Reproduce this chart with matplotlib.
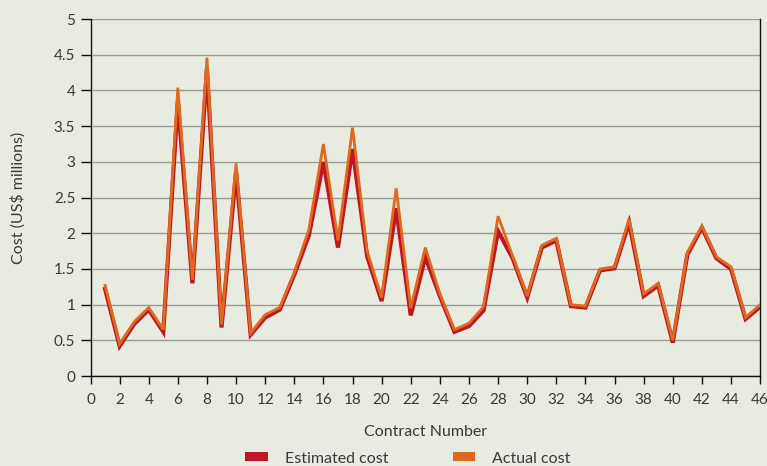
import matplotlib.pyplot as plt
from matplotlib.patches import Patch

# contract numbers 1..46
contracts = list(range(1, 47))

estimated = [1.22, 0.42, 0.73, 0.93, 0.62, 3.85, 1.30, 4.30, 0.68, 2.86,
             0.58, 0.82, 0.93, 1.42, 1.97, 3.00, 1.80, 3.18, 1.68, 1.05,
             2.35, 0.85, 1.67, 1.12, 0.62, 0.70, 0.92, 2.03, 1.65, 1.10,
             1.80, 1.90, 0.98, 0.96, 1.48, 1.51, 2.15, 1.12, 1.27, 0.47,
             1.70, 2.08, 1.65, 1.50, 0.80, 0.97]

actual = [1.27, 0.45, 0.76, 0.96, 0.65, 4.04, 1.35, 4.46, 0.72, 2.98,
          0.60, 0.86, 0.96, 1.45, 2.05, 3.25, 1.90, 3.48, 1.75, 1.10,
          2.63, 0.95, 1.80, 1.15, 0.65, 0.74, 0.97, 2.24, 1.68, 1.12,
          1.83, 1.93, 1.00, 0.98, 1.50, 1.53, 2.20, 1.15, 1.30, 0.50,
          1.73, 2.10, 1.67, 1.53, 0.82, 1.00]

BG = '#E8EBE0'
RED = '#BE1622'
ORANGE = '#E0691E'
TXT = '#3a3a3a'

plt.rcParams['font.family'] = ['Lato', 'DejaVu Sans']

fig = plt.figure(figsize=(7.67, 4.66), dpi=100, facecolor=BG)
ax = fig.add_axes([0.118, 0.193, 0.873, 0.766])
ax.set_facecolor(BG)

ax.plot(contracts, estimated, color=RED, linewidth=3.0, solid_joinstyle='miter', zorder=3)
ax.plot(contracts, actual, color=ORANGE, linewidth=2.0, solid_joinstyle='miter', zorder=4)

ax.set_xlim(0, 46)
ax.set_ylim(0, 5)
ax.set_xticks(range(0, 47, 2))
yt = [0, 0.5, 1, 1.5, 2, 2.5, 3, 3.5, 4, 4.5, 5]
ax.set_yticks(yt)
ax.set_yticklabels(['0', '0.5', '1', '1.5', '2', '2.5', '3', '3.5', '4', '4.5', '5'])

ax.yaxis.grid(True, color='#9a9c96', linewidth=1.0)
ax.set_axisbelow(True)
ax.spines['top'].set_visible(False)
for s in ['left', 'bottom', 'right']:
    ax.spines[s].set_color('#111111')
    ax.spines[s].set_linewidth(1.0)

ax.tick_params(axis='both', direction='out', length=6, width=1, color='#111111',
               labelsize=11, labelcolor=TXT, pad=6)
ax.tick_params(axis='y', length=7, pad=4)

ax.set_xlabel('Contract Number', fontsize=11.5, color=TXT, labelpad=13)
ax.set_ylabel('Cost (US$ millions)', fontsize=11.5, color=TXT, labelpad=20)

handles = [Patch(facecolor=RED, label='Estimated cost'),
           Patch(facecolor=ORANGE, label='Actual cost')]
fig.legend(handles=handles, loc='lower center', bbox_to_anchor=(0.532, -0.03), ncol=2,
           frameon=False, fontsize=11.5, labelcolor=TXT, handlelength=1.4,
           handleheight=0.5, columnspacing=4.0, handletextpad=1.1)

plt.savefig('out.png', dpi=100, facecolor=BG)
